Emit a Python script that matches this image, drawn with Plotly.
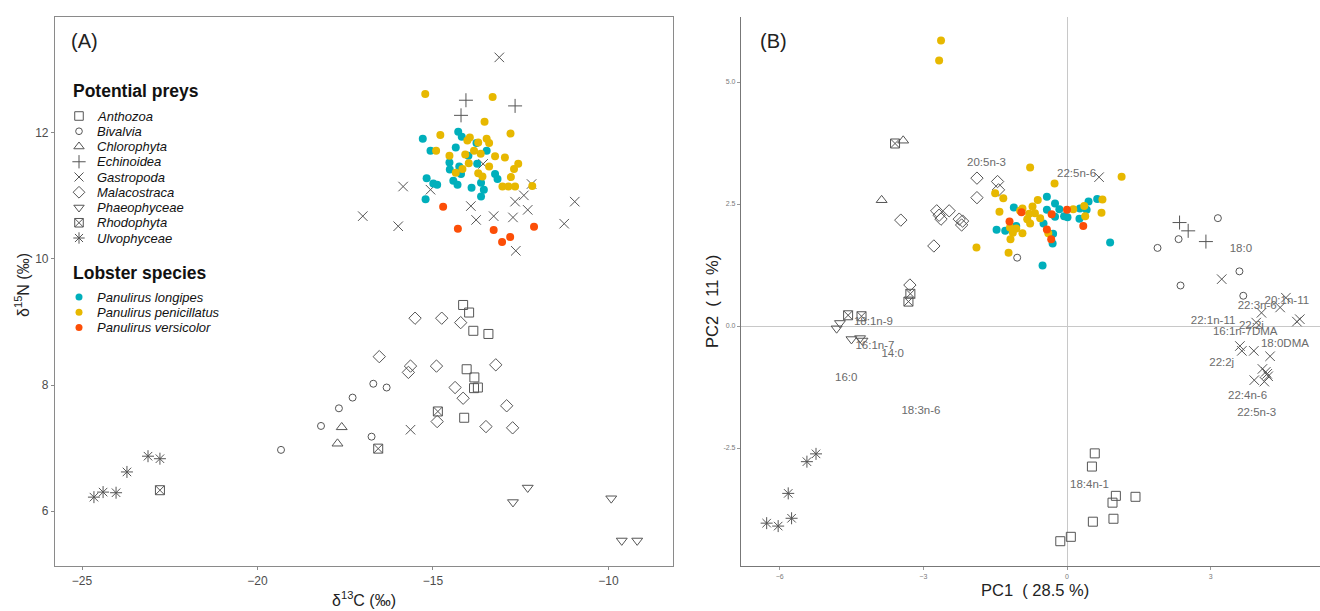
import plotly.graph_objects as go

W, H = 1320, 611
FONT = "Liberation Sans, Arial, sans-serif"

# ---------------- Panel A : stable isotopes ----------------
prey_groups = ["Anthozoa", "Bivalvia", "Chlorophyta", "Echinoidea", "Gastropoda",
               "Malacostraca", "Phaeophyceae", "Rhodophyta", "Ulvophyceae"]
lobster_species = ["Panulirus longipes", "Panulirus penicillatus", "Panulirus versicolor"]

anthozoa_d13c = [-14.14, -13.97, -13.85, -13.42, -14.04, -13.82, -13.83, -13.72, -14.11]
anthozoa_d15n = [9.27, 9.15, 8.86, 8.81, 8.25, 8.12, 7.95, 7.96, 7.48]
bivalvia_d13c = [-16.70, -16.32, -17.29, -17.68, -18.19, -16.75, -19.33]
bivalvia_d15n = [8.02, 7.96, 7.80, 7.63, 7.35, 7.18, 6.97]
chlorophyta_d13c = [-17.60, -17.72]
chlorophyta_d15n = [7.33, 7.07]
echinoidea_d13c = [-14.06, -14.20, -12.66]
echinoidea_d15n = [12.52, 12.28, 12.43]
gastropoda_d13c = [-13.11, -13.57, -15.85, -15.07, -12.19, -12.41, -12.66, -12.30, -13.92,
                   -13.77, -13.27, -12.72, -15.99, -11.26, -10.96, -12.64, -17.00, -15.64]
gastropoda_d15n = [13.20, 11.51, 11.15, 11.10, 11.19, 11.01, 10.91, 10.78, 10.84,
                   10.62, 10.68, 10.66, 10.52, 10.56, 10.91, 10.13, 10.68, 7.29]
malacostraca_d13c = [-15.51, -14.75, -14.21, -16.53, -15.64, -15.70, -14.90, -13.21, -14.37,
                     -14.14, -12.90, -14.88, -13.49, -12.73]
malacostraca_d15n = [9.06, 9.06, 8.99, 8.45, 8.30, 8.20, 8.30, 8.32, 7.96,
                     7.79, 7.67, 7.42, 7.34, 7.32]
phaeophyceae_d13c = [-12.30, -12.72, -9.92, -9.62, -9.18]
phaeophyceae_d15n = [6.37, 6.14, 6.20, 5.53, 5.53]
rhodophyta_d13c = [-14.86, -16.56, -22.78]
rhodophyta_d15n = [7.58, 6.99, 6.33]
ulvophyceae_d13c = [-24.66, -24.40, -24.03, -23.72, -23.12, -22.78]
ulvophyceae_d15n = [6.22, 6.30, 6.29, 6.62, 6.87, 6.83]

longipes_d13c = [-15.29, -14.28, -14.18, -14.35, -15.07, -13.99, -13.76, -13.47, -14.53, -14.52,
                 -13.74, -14.25, -14.20, -13.23, -13.16, -15.18, -14.99, -14.88, -14.42, -14.30,
                 -13.90, -13.63, -13.55, -13.63, -15.21]
longipes_d15n = [11.91, 12.02, 11.94, 11.77, 11.72, 11.64, 11.84, 11.72, 11.53, 11.42,
                 11.51, 11.47, 11.35, 11.35, 11.27, 11.28, 11.20, 11.18, 11.24, 11.18,
                 11.13, 11.21, 11.10, 10.99, 10.95]
penicillatus_d13c = [-15.22, -13.30, -13.53, -14.79, -12.79, -14.91, -13.95, -14.02, -13.47, -13.40,
                     -13.71, -13.83, -13.64, -14.53, -14.08, -13.23, -12.95, -13.98, -13.40, -12.57,
                     -12.69, -14.16, -14.35, -13.71, -13.59, -12.78, -13.02, -12.85, -12.66, -12.17]
penicillatus_d15n = [12.62, 12.57, 12.18, 11.97, 11.99, 11.72, 11.93, 11.88, 11.91, 11.84,
                     11.85, 11.72, 11.67, 11.64, 11.66, 11.63, 11.61, 11.52, 11.47, 11.51,
                     11.43, 11.43, 11.37, 11.36, 11.31, 11.30, 11.15, 11.15, 11.15, 11.16]
versicolor_d13c = [-14.71, -14.29, -13.27, -12.80, -13.03, -12.12]
versicolor_d15n = [10.83, 10.48, 10.46, 10.35, 10.27, 10.51]

# ---------------- Panel B : PCA of fatty acids ----------------
anthozoa_pc1 = [0.58, 0.52, 1.02, 1.43, 0.95, 0.97, 0.54, 0.08, -0.14]
anthozoa_pc2 = [-2.61, -2.88, -3.48, -3.50, -3.62, -3.95, -4.01, -4.32, -4.41]
bivalvia_pc1 = [3.15, 2.33, 1.89, 3.60, 2.37, 3.68, -1.04]
bivalvia_pc2 = [2.21, 1.78, 1.60, 1.12, 0.83, 0.62, 1.40]
chlorophyta_pc1 = [-3.42, -3.87]
chlorophyta_pc2 = [3.80, 2.58]
echinoidea_pc1 = [2.35, 2.53, 2.90]
echinoidea_pc2 = [2.12, 1.95, 1.73]
gastropoda_pc1 = [0.67, 3.23, 4.57, 4.45, 4.06, 3.95, 4.86, 4.80, 3.61, 3.65, 3.90, 4.24,
                  4.08, 4.15, 4.18, 4.20, 3.91, 4.12]
gastropoda_pc2 = [3.05, 0.96, 0.58, 0.38, 0.27, 0.07, 0.14, 0.09, -0.41, -0.51, -0.51, -0.62,
                  -0.88, -0.94, -0.98, -1.03, -1.11, -1.14]
malacostraca_pc1 = [-1.88, -1.45, -1.43, -1.88, -3.47, -2.72, -2.67, -2.63, -2.46, -2.25,
                    -2.18, -2.20, -2.78, -3.28]
malacostraca_pc2 = [3.03, 2.96, 2.79, 2.63, 2.17, 2.36, 2.27, 2.19, 2.36, 2.19,
                    2.15, 2.07, 1.64, 0.84]
phaeophyceae_pc1 = [-4.81, -4.74, -4.50, -4.32, -4.27]
phaeophyceae_pc2 = [-0.05, 0.06, -0.27, -0.25, -0.30]
rhodophyta_pc1 = [-3.59, -3.27, -3.31, -4.57, -4.29]
rhodophyta_pc2 = [3.74, 0.66, 0.50, 0.22, 0.20]
ulvophyceae_pc1 = [-5.24, -5.43, -5.82, -5.75, -6.03, -6.27]
ulvophyceae_pc2 = [-2.62, -2.78, -3.43, -3.94, -4.10, -4.04]

longipes_pc1 = [-1.11, -0.42, -0.25, -0.42, -0.16, -0.06, -0.25, 0.01, 0.26, 0.27, 0.45,
                0.63, 0.41, -1.47, -1.29, -1.06, -0.49, -0.29, -0.30, 0.90, -0.51]
longipes_pc2 = [2.43, 2.65, 2.51, 2.38, 2.39, 2.25, 2.24, 2.23, 2.20, 2.41, 2.55,
                2.60, 2.38, 1.97, 1.95, 2.05, 2.10, 1.89, 1.69, 1.71, 1.24]
penicillatus_pc1 = [-2.63, -2.67, -0.77, 1.14, -0.26, -1.50, -1.33, -0.61, -1.41, -0.93,
                    -0.72, -0.79, -0.83, -0.67, -0.56, -0.77, -0.98, -1.19, -1.13, -1.18,
                    -0.93, 0.13, 0.74, 0.72, 0.38, 0.36, -0.39, -1.89, -1.22, -1.06]
penicillatus_pc2 = [5.85, 5.44, 3.25, 3.06, 2.92, 2.72, 2.62, 2.58, 2.34, 2.41,
                    2.45, 2.30, 2.19, 2.31, 2.21, 2.10, 2.36, 2.02, 1.91, 1.78,
                    1.90, 2.39, 2.59, 2.32, 2.25, 2.46, 1.90, 1.61, 1.50, 2.00]
versicolor_pc1 = [-0.95, -1.20, -0.32, 0.00, -0.42, -0.33, 0.34]
versicolor_pc2 = [2.33, 2.14, 2.29, 2.38, 1.98, 1.78, 2.05]

fa_labels = ["20:5n-3", "22:5n-6", "18:0", "20:1n-11", "22:3n-6", "22:1n-11", "16:1n-7DMA",
             "22:2i", "18:0DMA", "22:2j", "22:4n-6", "22:5n-3", "18:1n-9", "16:1n-7", "14:0",
             "16:0", "18:3n-6", "18:4n-1"]
fa_pc1 = [-1.68, 0.20, 3.63, 4.59, 3.97, 3.05, 3.72, 3.85, 4.55, 3.23, 3.77, 3.96,
          -4.04, -4.01, -3.64, -4.61, -3.05, 0.47]
fa_pc2 = [3.33, 3.11, 1.58, 0.50, 0.41, 0.11, -0.12, 0.00, -0.37, -0.77, -1.43, -1.79,
          0.07, -0.41, -0.57, -1.06, -1.74, -3.27]

# ---------------- styles ----------------
GREY = "#555555"
prey_symbol = {"Anthozoa": "square-open", "Bivalvia": "circle-open", "Chlorophyta": "triangle-up-open",
               "Echinoidea": "cross-thin-open", "Gastropoda": "x-thin-open",
               "Malacostraca": "diamond-open", "Phaeophyceae": "triangle-down-open",
               "Rhodophyta": "square-x-open", "Ulvophyceae": "asterisk-open"}
prey_size = {"Anthozoa": 9, "Bivalvia": 7, "Chlorophyta": 9.5, "Echinoidea": 10, "Gastropoda": 9.5,
             "Malacostraca": 9.5, "Phaeophyceae": 9.5, "Rhodophyta": 9, "Ulvophyceae": 10}
lob_color = {"Panulirus longipes": "#00AFBB", "Panulirus penicillatus": "#E7B800",
             "Panulirus versicolor": "#FC4E07"}

prey_A = {"Anthozoa": (anthozoa_d13c, anthozoa_d15n), "Bivalvia": (bivalvia_d13c, bivalvia_d15n),
          "Chlorophyta": (chlorophyta_d13c, chlorophyta_d15n), "Echinoidea": (echinoidea_d13c, echinoidea_d15n),
          "Gastropoda": (gastropoda_d13c, gastropoda_d15n), "Malacostraca": (malacostraca_d13c, malacostraca_d15n),
          "Phaeophyceae": (phaeophyceae_d13c, phaeophyceae_d15n), "Rhodophyta": (rhodophyta_d13c, rhodophyta_d15n),
          "Ulvophyceae": (ulvophyceae_d13c, ulvophyceae_d15n)}
prey_B = {"Anthozoa": (anthozoa_pc1, anthozoa_pc2), "Bivalvia": (bivalvia_pc1, bivalvia_pc2),
          "Chlorophyta": (chlorophyta_pc1, chlorophyta_pc2), "Echinoidea": (echinoidea_pc1, echinoidea_pc2),
          "Gastropoda": (gastropoda_pc1, gastropoda_pc2), "Malacostraca": (malacostraca_pc1, malacostraca_pc2),
          "Phaeophyceae": (phaeophyceae_pc1, phaeophyceae_pc2), "Rhodophyta": (rhodophyta_pc1, rhodophyta_pc2),
          "Ulvophyceae": (ulvophyceae_pc1, ulvophyceae_pc2)}
lob_A = {"Panulirus longipes": (longipes_d13c, longipes_d15n),
         "Panulirus penicillatus": (penicillatus_d13c, penicillatus_d15n),
         "Panulirus versicolor": (versicolor_d13c, versicolor_d15n)}
lob_B = {"Panulirus longipes": (longipes_pc1, longipes_pc2),
         "Panulirus penicillatus": (penicillatus_pc1, penicillatus_pc2),
         "Panulirus versicolor": (versicolor_pc1, versicolor_pc2)}

fig = go.Figure()

def prey_marker(g, scale=1.0):
    return dict(symbol=prey_symbol[g], size=prey_size[g] * scale, color=GREY,
                line=dict(color=GREY, width=1))

for ax, prey, lob in (("", prey_A, lob_A), ("2", prey_B, lob_B)):
    for g in prey_groups:
        xs, ys = prey[g]
        fig.add_trace(go.Scatter(x=xs, y=ys, mode="markers", marker=prey_marker(g),
                                 xaxis="x" + ax, yaxis="y" + ax, showlegend=False, name=g))
    for sp in lobster_species:
        xs, ys = lob[sp]
        fig.add_trace(go.Scatter(x=xs, y=ys, mode="markers",
                                 marker=dict(symbol="circle", size=8, color=lob_color[sp], line=dict(width=0)),
                                 xaxis="x" + ax, yaxis="y" + ax, showlegend=False, name=sp))

fig.add_trace(go.Scatter(x=fa_pc1, y=fa_pc2, mode="text", text=fa_labels,
                         textfont=dict(family=FONT, size=11.5, color="#6b6b6b"),
                         xaxis="x2", yaxis="y2", showlegend=False))

# ---------------- manual legend (pixel overlay axis) ----------------
LEG_SYM_X, LEG_TXT_X = 79, 95
PREY_Y0, STEP = 116, 15.25
LOB_Y0 = 297
annotations = []
for i, g in enumerate(prey_groups):
    yy = PREY_Y0 + i * STEP
    fig.add_trace(go.Scatter(x=[LEG_SYM_X], y=[yy], mode="markers", marker=prey_marker(g, 0.95),
                             xaxis="x3", yaxis="y3", showlegend=False, hoverinfo="skip"))
    annotations.append(dict(x=LEG_TXT_X, y=yy, xref="x3", yref="y3", text="<i>%s</i>" % g,
                            showarrow=False, xanchor="left", yanchor="middle",
                            font=dict(family=FONT, size=13, color="#111")))
for i, sp in enumerate(lobster_species):
    yy = LOB_Y0 + i * STEP
    fig.add_trace(go.Scatter(x=[LEG_SYM_X], y=[yy], mode="markers",
                             marker=dict(symbol="circle", size=7, color=lob_color[sp]),
                             xaxis="x3", yaxis="y3", showlegend=False, hoverinfo="skip"))
    annotations.append(dict(x=LEG_TXT_X, y=yy, xref="x3", yref="y3", text="<i>%s</i>" % sp,
                            showarrow=False, xanchor="left", yanchor="middle",
                            font=dict(family=FONT, size=13, color="#111")))

def txt(x, y, s, size, angle=0, anchor="center", bold=False, color="#111"):
    annotations.append(dict(x=x, y=y, xref="x3", yref="y3", text=("<b>%s</b>" % s) if bold else s,
                            showarrow=False, xanchor=anchor, yanchor="middle", textangle=angle,
                            font=dict(family=FONT, size=size, color=color)))

txt(71, 91, "Potential preys", 17.5, anchor="left", bold=True)
txt(71, 273, "Lobster species", 17.5, anchor="left", bold=True)
txt(84, 41, "(A)", 20, color="#222")
txt(773, 41, "(B)", 20, color="#222")
txt(364, 599, "δ<sup>13</sup>C (‰)", 16, color="#222")
txt(22, 285, "δ<sup>15</sup>N (‰)", 16, angle=-90, color="#222")
txt(1035, 590, "PC1\u00a0\u00a0( 28.5 %)", 16.5, color="#222")
txt(712, 302, "PC2\u00a0\u00a0( 11 %)", 16.5, angle=-90, color="#222")

# ---------------- layout ----------------
def px(v):
    return v / W

def py(v):
    return 1 - v / H

TOP, BOTTOM = 17, 566
yd = [py(BOTTOM), py(TOP)]
tickfont_a = dict(family=FONT, size=12, color="#4d4d4d")
tickfont_b = dict(family=FONT, size=7, color="#7a7a7a")

fig.update_layout(
    width=W, height=H, margin=dict(l=0, r=0, t=0, b=0),
    paper_bgcolor="white", plot_bgcolor="rgba(0,0,0,0)",
    font=dict(family=FONT),
    showlegend=False,
    annotations=annotations,
    xaxis=dict(domain=[px(55), px(673)], range=[-25.77, -8.16], tickvals=[-25, -20, -15, -10],
               showgrid=False, zeroline=False, showline=True, mirror=True, linecolor="#8a8a8a",
               linewidth=1.2, ticks="outside", ticklen=3, tickcolor="#8a8a8a", tickfont=tickfont_a,
               anchor="y"),
    yaxis=dict(domain=yd, range=[5.127, 13.841], tickvals=[6, 8, 10, 12],
               showgrid=False, zeroline=False, showline=True, mirror=True, linecolor="#8a8a8a",
               linewidth=1.2, ticks="outside", ticklen=3, tickcolor="#8a8a8a", tickfont=tickfont_a,
               anchor="x"),
    xaxis2=dict(domain=[px(741), 1.0], range=[-6.806, 5.282], tickvals=[-6, -3, 0, 3],
                showgrid=False, zeroline=True, zerolinecolor="#c8c8c8", zerolinewidth=1,
                showline=True, linecolor="#777", linewidth=1.2, ticks="outside", ticklen=3,
                tickcolor="#999", tickfont=tickfont_b, anchor="y2"),
    yaxis2=dict(domain=yd, range=[-4.918, 6.332], tickvals=[-2.5, 0, 2.5, 5.0],
                ticktext=["-2.5", "0.0", "2.5", "5.0"],
                showgrid=False, zeroline=True, zerolinecolor="#c8c8c8", zerolinewidth=1,
                showline=True, linecolor="#777", linewidth=1.2, ticks="outside", ticklen=3,
                tickcolor="#999", tickfont=tickfont_b, anchor="x2"),
    xaxis3=dict(domain=[0, 1], range=[0, W], visible=False, fixedrange=True, anchor="y3"),
    yaxis3=dict(domain=[0, 1], range=[H, 0], visible=False, fixedrange=True, anchor="x3"),
)

fig.write_html("out.html")
